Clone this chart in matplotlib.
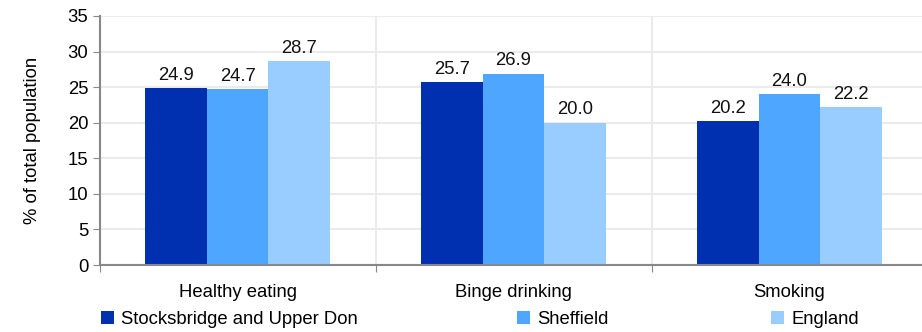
import matplotlib
matplotlib.use("Agg")
import matplotlib.pyplot as plt
import numpy as np

categories = ["Healthy eating", "Binge drinking", "Smoking"]
series_names = ["Stocksbridge and Upper Don", "Sheffield", "England"]
stocksbridge = [24.9, 25.7, 20.2]
sheffield = [24.7, 26.9, 24.0]
england = [28.7, 20.0, 22.2]
yticks = [0, 5, 10, 15, 20, 25, 30, 35]

colors = ["#0030B0", "#4FA6FF", "#99CCFF"]

plt.rcParams['font.family'] = ['Liberation Sans', 'DejaVu Sans']
FS = 13.3

W, H = 922, 332
fig = plt.figure(figsize=(W/100, H/100), dpi=100)
ax = fig.add_axes([99.5/W, 1-265/H, 828/W, (265-16)/H])

x = np.arange(len(categories))
bw = 0.2235
handles = []
for i, (vals, c) in enumerate(zip([stocksbridge, sheffield, england], colors)):
    b = ax.bar(x + (i-1)*bw, vals, width=bw, color=c, zorder=3)
    handles.append(b)
    for xi, v in zip(x + (i-1)*bw, vals):
        ax.text(xi, v + 0.6, f"{v:.1f}", ha='center', va='bottom', fontsize=FS, color='#111111', zorder=4)

ax.set_xlim(-0.5, 2.5)
ax.set_ylim(0, 35)
ax.set_yticks(yticks)
ax.set_yticklabels([str(t) for t in yticks], fontsize=FS)
ax.set_xticks([-0.5, 0.5, 1.5, 2.5])
ax.set_xticklabels([])
ax.set_xticks(x, minor=True)
ax.set_xticklabels(categories, minor=True, fontsize=FS)
ax.tick_params(axis='x', which='minor', length=0, pad=14)
ax.tick_params(axis='x', which='major', length=5, color='#888888', direction='out')
ax.tick_params(axis='y', length=5, color='#888888', pad=3)

ax.grid(axis='y', color='#EBEBEB', linewidth=1.5, zorder=0)
ax.grid(axis='x', which='major', color='#EBEBEB', linewidth=1.5, zorder=0)

for s in ['top', 'right']:
    ax.spines[s].set_visible(False)
for s in ['left', 'bottom']:
    ax.spines[s].set_color('#888888')
    ax.spines[s].set_linewidth(1.5)
ax.spines['left'].set_zorder(5)
ax.spines['bottom'].set_zorder(5)

ax.set_ylabel("% of total population", fontsize=FS, labelpad=19)

leg_x = [101, 517, 771]
for h, name, lx in zip(handles, series_names, leg_x):
    leg = fig.legend([h], [name], loc='center left', bbox_to_anchor=(lx/W, 1-319/H),
                     frameon=False, fontsize=FS, handlelength=0.7, handleheight=0.7,
                     handletextpad=0.4, borderpad=0, borderaxespad=0)

fig.savefig("out.png", dpi=100)
